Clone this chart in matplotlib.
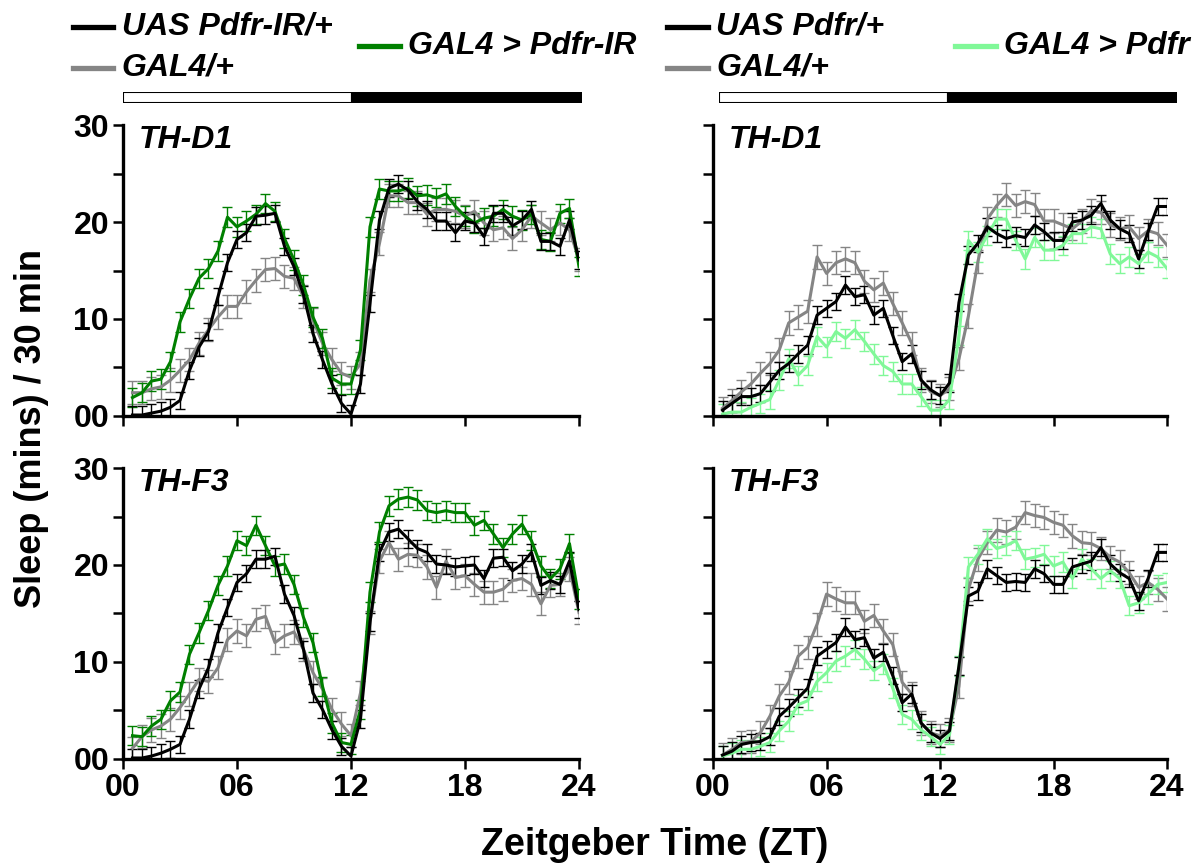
import numpy as np
import matplotlib
matplotlib.use("Agg")
import matplotlib.pyplot as plt
from matplotlib.lines import Line2D

plt.rcParams['font.family'] = ['Liberation Sans', 'DejaVu Sans']
plt.rcParams['font.weight'] = 'bold'

# 30-min bins, ZT 0.5 ... 24
zt = np.arange(0.5, 24.01, 0.5)

# ---- TH-D1, Pdfr-IR (top left)
d1_uas_ir = [0.1, 0.1, 0.3, 0.5, 0.9, 1.6, 4.7, 7.1, 8.7, 12.3, 15.8, 18.2,
             18.9, 20.6, 20.7, 20.9, 17.5, 15.4, 12.5, 8.5, 5.8, 3.3, 1.3, 0.2,
             3.3, 11.6, 20.2, 23.5, 23.9, 23.3, 22.1, 21.3, 20.1, 20.1, 18.9, 20.1,
             19.9, 18.5, 20.9, 20.9, 19.6, 20.2, 21.3, 18.0, 18.0, 17.5, 20.2, 16.1]
d1_gal4_l = [2.4, 2.4, 2.8, 3.0, 3.7, 4.7, 5.8, 7.5, 8.9, 10.2, 11.3, 11.3,
             12.8, 14.0, 15.1, 15.2, 14.4, 14.2, 12.3, 9.9, 7.5, 5.8, 4.4, 4.0,
             5.4, 14.0, 17.8, 22.7, 22.7, 22.0, 22.0, 20.8, 21.3, 21.3, 21.1, 20.6,
             21.1, 19.9, 19.2, 19.4, 18.3, 19.2, 20.6, 19.9, 19.2, 19.9, 19.2, 16.1]
d1_ir = [1.9, 2.4, 3.6, 3.8, 5.6, 9.7, 12.1, 14.2, 15.2, 17.0, 20.5, 19.5,
         20.1, 20.8, 21.9, 21.1, 18.3, 16.1, 13.5, 10.2, 8.0, 3.9, 3.3, 3.3,
         6.8, 19.5, 23.4, 23.2, 23.2, 23.5, 22.7, 22.8, 22.5, 22.9, 21.6, 20.6,
         19.9, 20.4, 20.6, 21.3, 20.6, 20.2, 20.8, 18.2, 18.0, 20.9, 21.4, 15.4]

# ---- TH-F3, Pdfr-IR (bottom left)
f3_uas_ir = [0.1, 0.1, 0.3, 0.6, 1.0, 1.5, 4.1, 7.2, 9.4, 13.0, 15.6, 18.2,
             19.1, 20.6, 20.6, 20.9, 17.0, 14.8, 11.3, 6.8, 5.1, 3.0, 1.3, 0.3,
             4.1, 14.1, 21.3, 23.4, 23.7, 22.7, 21.7, 21.3, 20.1, 20.0, 19.8, 19.9,
             20.0, 18.6, 20.7, 20.8, 19.4, 20.1, 21.3, 17.9, 18.4, 18.0, 20.4, 15.4]
f3_gal4_l = [1.1, 2.3, 3.0, 3.4, 4.1, 5.3, 6.7, 8.2, 8.0, 9.4, 12.3, 13.2,
             12.7, 14.4, 14.7, 12.0, 12.7, 13.1, 11.3, 8.9, 7.2, 5.1, 3.6, 2.4,
             6.8, 14.1, 20.4, 22.3, 20.6, 21.1, 21.0, 19.8, 17.7, 20.4, 18.7, 18.9,
             18.0, 17.2, 17.2, 17.5, 18.4, 18.6, 18.0, 16.0, 17.9, 18.0, 19.6, 15.1]
f3_ir = [2.4, 2.3, 3.4, 4.1, 6.0, 6.9, 10.8, 13.0, 15.3, 17.9, 19.9, 22.5,
         22.0, 24.1, 22.0, 19.9, 20.1, 18.0, 14.6, 12.0, 7.5, 3.7, 1.7, 1.5,
         5.1, 17.2, 23.4, 26.1, 26.8, 27.0, 26.7, 25.6, 25.4, 25.6, 25.4, 25.4,
         24.1, 24.6, 23.2, 21.8, 23.2, 24.2, 22.5, 19.9, 18.6, 19.6, 22.2, 16.5]

# ---- TH-D1, Pdfr (top right)
d1_uas_pdfr = [0.6, 1.3, 2.0, 2.0, 2.3, 3.5, 4.7, 5.4, 6.4, 7.3, 10.4, 11.1,
               11.8, 13.5, 12.3, 12.5, 10.4, 11.1, 8.3, 5.6, 6.4, 3.7, 2.7, 2.1,
               3.4, 11.7, 16.6, 17.8, 19.5, 18.8, 18.3, 18.6, 18.4, 19.7, 19.0, 18.1,
               18.1, 20.0, 20.2, 20.7, 21.9, 20.2, 19.3, 18.8, 16.2, 19.0, 21.6, 21.6]
d1_gal4_r = [0.8, 1.6, 2.5, 3.3, 4.4, 5.4, 6.8, 9.6, 10.2, 10.8, 16.4, 14.7,
             15.8, 16.2, 15.8, 13.9, 13.0, 13.7, 11.6, 9.6, 7.5, 3.7, 2.5, 2.1,
             2.8, 5.9, 10.3, 15.9, 20.3, 21.7, 22.8, 21.7, 22.1, 21.8, 20.1, 20.1,
             19.7, 19.3, 20.1, 21.2, 21.0, 19.7, 19.3, 19.5, 18.3, 19.1, 18.8, 17.6]
d1_pdfr = [0.2, 0.4, 0.4, 0.9, 1.3, 1.7, 3.7, 5.9, 4.2, 5.2, 8.2, 7.1,
           8.7, 8.0, 8.9, 7.7, 6.4, 5.2, 4.6, 3.3, 3.3, 2.0, 0.6, 0.6,
           1.7, 8.3, 18.1, 16.9, 18.6, 20.3, 20.3, 18.1, 16.2, 18.4, 17.1, 17.1,
           17.6, 18.8, 18.8, 19.5, 19.3, 16.7, 15.7, 16.4, 15.7, 16.9, 16.4, 15.2]

# ---- TH-F3, Pdfr (bottom right)
f3_uas_pdfr = [0.4, 0.8, 1.5, 1.7, 1.8, 2.3, 4.4, 5.3, 6.3, 7.3, 10.6, 11.3,
               12.0, 13.6, 12.3, 12.5, 10.4, 11.0, 8.6, 5.8, 6.7, 3.7, 2.7, 2.1,
               2.9, 9.6, 16.8, 17.3, 19.6, 18.9, 18.2, 18.3, 18.2, 19.6, 19.1, 18.0,
               18.0, 19.8, 20.1, 20.4, 21.8, 20.1, 19.2, 18.6, 16.3, 18.6, 21.3, 21.3]
f3_gal4_r = [0.4, 1.0, 1.7, 1.8, 2.7, 4.4, 6.5, 7.9, 10.6, 11.5, 13.9, 17.0,
             16.5, 16.1, 16.1, 14.2, 14.8, 13.2, 11.8, 7.9, 6.7, 3.7, 2.7, 2.4,
             3.0, 7.5, 17.5, 20.6, 22.3, 23.6, 23.4, 23.9, 25.4, 25.1, 24.9, 24.4,
             24.1, 23.0, 22.3, 22.2, 21.7, 20.8, 20.3, 19.2, 17.7, 18.2, 17.5, 16.5]
f3_pdfr = [0.3, 0.6, 1.0, 1.0, 1.3, 1.7, 2.9, 3.9, 5.6, 6.0, 8.0, 8.9,
           10.1, 10.6, 11.3, 10.3, 9.1, 9.8, 7.3, 4.6, 4.1, 3.0, 2.3, 1.5,
           2.5, 9.6, 19.8, 21.1, 22.7, 21.7, 22.0, 22.5, 20.6, 20.8, 21.1, 19.9,
           20.3, 18.6, 20.6, 19.6, 18.6, 19.4, 18.6, 15.8, 16.1, 17.0, 18.0, 18.2]

# typical SEM (mins) per genotype
sem_uas = 0.9
sem_gal4 = 1.2
sem_exp = 1.0

# light / dark schedule (ZT start, duration)
ld_start = [0, 12]
ld_len = [12, 12]
ld_color = ['white', 'black']

c_black = '#000000'
c_gray = '#858585'
c_green = '#008000'
c_lgreen = '#80F898'

panels = [
    # (position, title, series, show x labels, show y labels)
    ([0.1030, 0.5202, 0.3819, 0.3356], 'TH-D1',
     [(d1_gal4_l, sem_gal4, c_gray), (d1_ir, sem_exp, c_green), (d1_uas_ir, sem_uas, c_black)], False, True),
    ([0.1030, 0.1246, 0.3819, 0.3356], 'TH-F3',
     [(f3_gal4_l, sem_gal4, c_gray), (f3_ir, sem_exp, c_green), (f3_uas_ir, sem_uas, c_black)], True, True),
    ([0.5972, 0.5202, 0.3802, 0.3356], 'TH-D1',
     [(d1_gal4_r, sem_gal4, c_gray), (d1_pdfr, sem_exp, c_lgreen), (d1_uas_pdfr, sem_uas, c_black)], False, False),
    ([0.5972, 0.1246, 0.3802, 0.3356], 'TH-F3',
     [(f3_gal4_r, sem_gal4, c_gray), (f3_pdfr, sem_exp, c_lgreen), (f3_uas_pdfr, sem_uas, c_black)], True, False),
]

fig = plt.figure(figsize=(11.94, 8.67), dpi=100)

for pos, title, series, xlab, ylab in panels:
    ax = fig.add_axes(pos)
    for vals, sem, col in series:
        ax.errorbar(zt, vals, yerr=sem, color=col, lw=2.2, elinewidth=1,
                    capsize=3.6, capthick=1)
    ax.set_xlim(0, 24)
    ax.set_ylim(0, 30)
    ax.set_xticks([0, 6, 12, 18, 24])
    ax.set_yticks([0, 5, 10, 15, 20, 25, 30])
    if xlab:
        ax.set_xticklabels(['00', '06', '12', '18', '24'])
    else:
        ax.set_xticklabels([])
    if ylab:
        ax.set_yticklabels(['00', '', '10', '', '20', '', '30'])
    else:
        ax.set_yticklabels([])
    for s in ['top', 'right']:
        ax.spines[s].set_visible(False)
    for s in ['left', 'bottom']:
        ax.spines[s].set_linewidth(2.4)
    ax.tick_params(length=7, width=1.8, labelsize=23, pad=3)
    ax.text(0.035, 1.0, title, transform=ax.transAxes, ha='left', va='top',
            fontsize=23, fontweight='bold', style='italic')

# light/dark bars
for x0, w in [(0.1030, 0.3844), (0.6022, 0.3836)]:
    bar = fig.add_axes([x0, 0.8812, w, 0.0127])
    bar.barh([0], ld_len, left=ld_start, color=ld_color, edgecolor='black',
             linewidth=1.5, height=1)
    bar.set_xlim(0, 24)
    bar.set_ylim(-0.5, 0.5)
    bar.axis('off')

# legends
legend_items = [
    (0.061, 0.969, c_black, 'UAS Pdfr-IR/+'),
    (0.061, 0.9216, c_gray, 'GAL4/+'),
    (0.301, 0.947, c_green, 'GAL4 > Pdfr-IR'),
    (0.559, 0.969, c_black, 'UAS Pdfr/+'),
    (0.559, 0.9216, c_gray, 'GAL4/+'),
    (0.800, 0.947, c_lgreen, 'GAL4 > Pdfr'),
]
for x, y, col, lab in legend_items:
    fig.add_artist(Line2D([x, x + 0.034], [y, y], color=col, lw=3.8,
                          transform=fig.transFigure))
    fig.text(x + 0.041, y, lab, ha='left', va='center', fontsize=23,
             fontweight='bold', style='italic')

fig.text(0.026, 0.506, 'Sleep (mins) / 30 min', rotation=90, ha='center',
         va='center', fontsize=26, fontweight='bold')
fig.text(0.548, 0.025, 'Zeitgeber Time (ZT)', ha='center', va='center',
         fontsize=27, fontweight='bold')

fig.savefig('out.png', dpi=100)
